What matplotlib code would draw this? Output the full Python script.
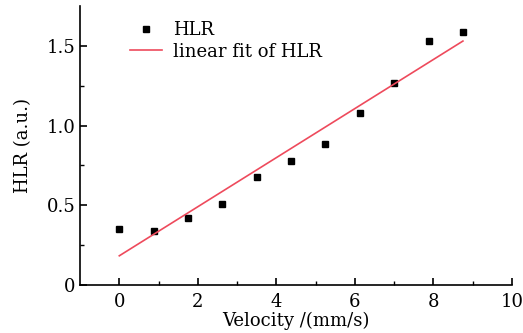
import numpy as np
import matplotlib.pyplot as plt

velocity = [0, 0.875, 1.75, 2.625, 3.5, 4.375, 5.25, 6.125, 7.0, 7.875, 8.75]
hlr = [0.35, 0.34, 0.42, 0.51, 0.68, 0.78, 0.885, 1.08, 1.265, 1.53, 1.585]

plt.rcParams['font.family'] = ['DejaVu Serif']
plt.rcParams['mathtext.fontset'] = 'dejavuserif'

fig = plt.figure(figsize=(5.23, 3.33), dpi=100)
ax = fig.add_axes([0.153, 0.144, 0.826, 0.838])

x = np.asarray(velocity)
y = np.asarray(hlr)
slope, intercept = np.polyfit(x, y, 1)

ax.plot(x, y, 's', color='black', markersize=5, label='HLR')
ax.plot(x, slope * x + intercept, '-', color='#ee4a5c', linewidth=1.2,
        label='linear fit of HLR')

ax.set_xlim(-1, 10)
ax.set_ylim(0, 1.75)
ax.set_xticks([0, 2, 4, 6, 8, 10])
ax.set_xticks([1, 3, 5, 7, 9], minor=True)
ax.set_yticks([0, 0.5, 1.0, 1.5])
ax.set_yticklabels(['0', '0.5', '1.0', '1.5'])
ax.set_yticks([0.25, 0.75, 1.25], minor=True)

ax.spines['top'].set_visible(False)
ax.spines['right'].set_visible(False)
for s in ['left', 'bottom']:
    ax.spines[s].set_linewidth(1.2)
ax.tick_params(which='major', direction='in', length=5, width=1.2, labelsize=13)
ax.tick_params(axis='x', which='major', pad=6)
ax.tick_params(which='minor', direction='in', length=3, width=1.0)

ax.set_xlabel('Velocity /(mm/s)', fontsize=13, labelpad=0)
ax.set_ylabel('HLR (a.u.)', fontsize=13, labelpad=10)

ax.legend(loc='upper left', bbox_to_anchor=(0.09, 0.985), frameon=False, fontsize=13,
          handlelength=1.8, handletextpad=0.6, labelspacing=0.2, borderaxespad=0.2)

fig.savefig('out.png', dpi=100)
